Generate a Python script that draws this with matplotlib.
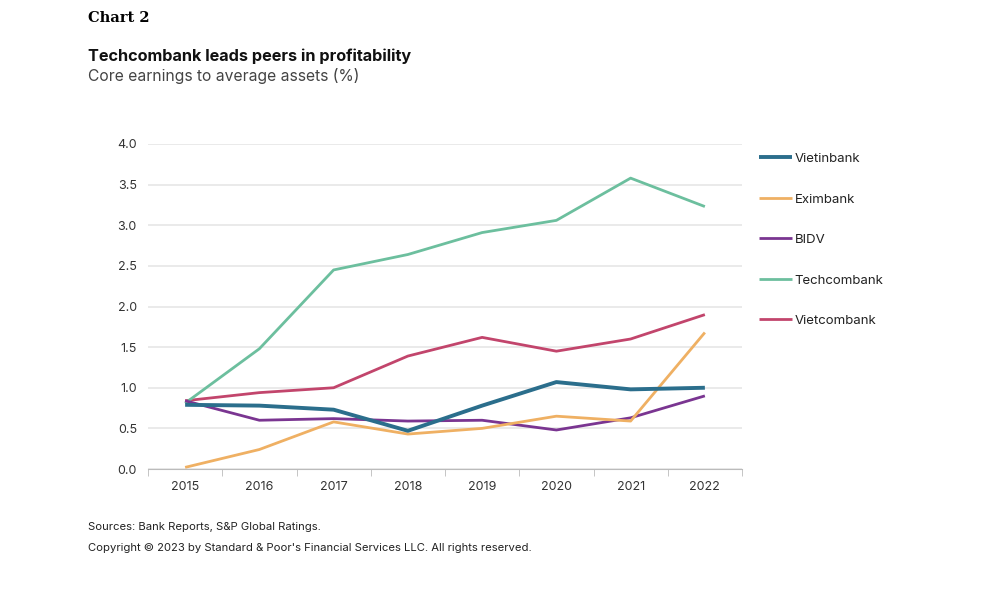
import numpy as np
import matplotlib
matplotlib.use('Agg')
import matplotlib.pyplot as plt

plt.rcParams['font.family'] = ['Inter', 'DejaVu Sans']

years = ['2015', '2016', '2017', '2018', '2019', '2020', '2021', '2022']
vietinbank = [0.79, 0.78, 0.73, 0.47, 0.78, 1.07, 0.98, 1.00]
eximbank = [0.02, 0.24, 0.58, 0.43, 0.50, 0.65, 0.59, 1.68]
bidv = [0.84, 0.60, 0.62, 0.59, 0.60, 0.48, 0.63, 0.90]
techcombank = [0.81, 1.48, 2.45, 2.64, 2.91, 3.06, 3.58, 3.23]
vietcombank = [0.84, 0.94, 1.00, 1.39, 1.62, 1.45, 1.60, 1.90]

series = [('Vietinbank', vietinbank, '#2b6e8c', 2.8),
          ('Eximbank', eximbank, '#efb063', 2.0),
          ('BIDV', bidv, '#7a3591', 2.0),
          ('Techcombank', techcombank, '#6cbf9e', 2.0),
          ('Vietcombank', vietcombank, '#c2456c', 2.0)]

fig = plt.figure(figsize=(10.02, 5.92), dpi=100)
ax = fig.add_axes([148/1002, 1-469/592, (742-148)/1002, (469-144)/592])

x = np.arange(len(years))
# draw in reverse so Vietinbank ends on top like the reference
for name, vals, col, lw in series[::-1]:
    ax.plot(x, vals, color=col, linewidth=lw, label=name, solid_capstyle='butt')

ax.set_xlim(-0.5, len(years) - 0.5)
ax.set_ylim(0, 4)
ax.set_yticks(np.arange(0, 4.01, 0.5))
ax.set_yticklabels([f'{v:.1f}' for v in np.arange(0, 4.01, 0.5)])
ax.set_xticks(x)
ax.set_xticklabels(years)
ax.set_xticks(np.arange(-0.5, len(years), 1), minor=True)
ax.tick_params(axis='x', which='major', length=0, pad=9, labelsize=9, colors='#333333')
ax.tick_params(axis='x', which='minor', length=5, color='#bbbbbb', direction='out')
ax.tick_params(axis='y', length=0, pad=8, labelsize=9, colors='#333333')
ax.yaxis.grid(True, color='#e6e6e6', linewidth=1.2)
ax.set_axisbelow(True)
for s in ['top', 'right', 'left']:
    ax.spines[s].set_visible(False)
ax.spines['bottom'].set_color('#bbbbbb')

handles, labels = ax.get_legend_handles_labels()
leg = fig.legend(handles[::-1], labels[::-1], loc='upper left',
                 bbox_to_anchor=(747/1002, 1-141/592), frameon=False,
                 handlelength=2.5, handletextpad=0.2, labelspacing=2.14,
                 fontsize=9.5)
for t in leg.get_texts():
    t.set_color('#222222')

fig.text(88/1002, 1-18/592, 'Chart 2', family='DejaVu Serif', fontweight='bold',
         fontsize=10.5, va='center', ha='left')
fig.text(88/1002, 1-56/592, 'Techcombank leads peers in profitability',
         fontweight='bold', fontsize=11.7, va='center', ha='left', color='#111111')
fig.text(88/1002, 1-76/592, 'Core earnings to average assets (%)',
         fontsize=11.3, va='center', ha='left', color='#444444')
fig.text(88/1002, 1-527/592, 'Sources: Bank Reports, S&P Global Ratings.',
         fontsize=8.1, va='center', ha='left', color='#222222')
fig.text(88/1002, 1-548/592,
         "Copyright \u00a9 2023 by Standard & Poor's Financial Services LLC. All rights reserved.",
         fontsize=8.1, va='center', ha='left', color='#222222')

fig.savefig('out.png', dpi=100)
